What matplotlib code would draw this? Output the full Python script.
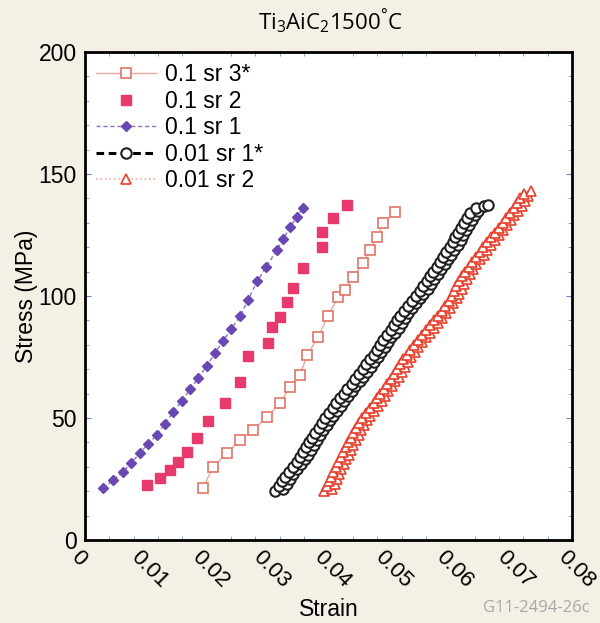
import numpy as np
import matplotlib
matplotlib.use('Agg')
import matplotlib.pyplot as plt
from matplotlib.transforms import ScaledTranslation

plt.rcParams['font.family'] = ['Liberation Sans', 'DejaVu Sans']
plt.rcParams['mathtext.fontset'] = 'custom'
plt.rcParams['mathtext.rm'] = 'Open Sans'

# 0.1 sr 3* (open squares)
sr3_strain = [0.0194, 0.0210, 0.0233, 0.0255, 0.0276, 0.0299, 0.0320, 0.0337, 0.0353, 0.0365,
              0.0383, 0.0399, 0.0416, 0.0427, 0.0440, 0.0457, 0.0468, 0.0480, 0.0490, 0.0509]
sr3_stress = [21.3, 29.9, 35.7, 41.0, 45.1, 50.4, 56.1, 62.7, 67.6, 75.8,
              83.2, 91.8, 99.6, 102.5, 107.8, 113.5, 118.9, 124.2, 129.9, 134.4]

# 0.1 sr 2 (filled squares)
sr2_strain = [0.0102, 0.0123, 0.0140, 0.0153, 0.0168, 0.0184, 0.0202, 0.0230, 0.0255, 0.0268,
              0.0301, 0.0307, 0.0320, 0.0332, 0.0342, 0.0358, 0.0389, 0.0389, 0.0407, 0.0430]
sr2_stress = [22.5, 25.4, 28.7, 32.0, 36.1, 41.8, 48.8, 56.1, 64.8, 75.4,
              80.7, 87.3, 91.4, 97.5, 103.3, 111.5, 120.1, 126.2, 132.0, 137.3]

# 0.1 sr 1 (diamonds)
sr1_strain = [0.0030, 0.0046, 0.0062, 0.0076, 0.0090, 0.0104, 0.0118, 0.0131, 0.0145, 0.0159,
              0.0173, 0.0186, 0.0200, 0.0213, 0.0227, 0.0240, 0.0255, 0.0268, 0.0283, 0.0298,
              0.0315, 0.0326, 0.0337, 0.0348, 0.0358]
sr1_stress = [21.3, 24.5, 27.9, 31.5, 35.7, 39.5, 43.0, 47.5, 52.5, 57.0,
              61.9, 66.5, 71.3, 76.5, 81.6, 86.5, 91.8, 98.5, 106.1, 112.0,
              118.9, 123.5, 128.3, 132.5, 136.1]

# 0.01 sr 1* (open circles), read as two strands of the band
c1_strain = [0.0312, 0.0318, 0.0324, 0.0329, 0.0335, 0.0342, 0.0348, 0.0353, 0.0358, 0.0363,
             0.0368, 0.0373, 0.0378, 0.0384, 0.0390, 0.0395, 0.0401, 0.0407, 0.0413, 0.0419,
             0.0425, 0.0431, 0.0438, 0.0444, 0.0450, 0.0456, 0.0462, 0.0468, 0.0474, 0.0479,
             0.0485, 0.0490, 0.0496, 0.0502, 0.0507, 0.0513, 0.0518, 0.0524, 0.0530, 0.0537,
             0.0543, 0.0550, 0.0556, 0.0561, 0.0567, 0.0572, 0.0578, 0.0583, 0.0588, 0.0593,
             0.0599, 0.0604, 0.0608, 0.0613, 0.0618, 0.0623, 0.0628, 0.0633, 0.0643, 0.0662]
c1_stress = [20, 22, 24, 26, 28, 30, 32, 34, 36, 38,
             40, 42, 44, 46, 48, 50, 52, 54, 56, 58,
             60, 62, 64, 66, 68, 70, 72, 74, 76, 78,
             80, 82, 84, 86, 88, 90, 92, 94, 96, 98,
             100, 102, 104, 106, 108, 110, 112, 114, 116, 118,
             120, 122, 124, 126, 128, 130, 132, 134, 136, 137.5]
c2_strain = [0.0325, 0.0331, 0.0337, 0.0342, 0.0348, 0.0355, 0.0361, 0.0366, 0.0371, 0.0376,
             0.0381, 0.0386, 0.0391, 0.0397, 0.0403, 0.0408, 0.0414, 0.0420, 0.0426, 0.0432,
             0.0438, 0.0444, 0.0451, 0.0457, 0.0463, 0.0469, 0.0475, 0.0481, 0.0487, 0.0492,
             0.0498, 0.0503, 0.0509, 0.0515, 0.0520, 0.0526, 0.0531, 0.0537, 0.0543, 0.0550,
             0.0556, 0.0563, 0.0569, 0.0574, 0.0580, 0.0585, 0.0591, 0.0596, 0.0601, 0.0606,
             0.0612, 0.0617, 0.0621, 0.0626, 0.0631, 0.0636, 0.0641, 0.0646, 0.0656]
c2_stress = [21, 23, 25, 27, 29, 31, 33, 35, 37, 39,
             41, 43, 45, 47, 49, 51, 53, 55, 57, 59,
             61, 63, 65, 67, 69, 71, 73, 75, 77, 79,
             81, 83, 85, 87, 89, 91, 93, 95, 97, 99,
             101, 103, 105, 107, 109, 111, 113, 115, 117, 119,
             121, 123, 125, 127, 129, 131, 133, 135, 137]

# 0.01 sr 2 (open triangles), read as two strands of the band
t1_strain = [0.0393, 0.0397, 0.0401, 0.0404, 0.0408, 0.0412, 0.0416, 0.0420, 0.0424, 0.0428,
             0.0432, 0.0437, 0.0441, 0.0445, 0.0450, 0.0455, 0.0461, 0.0468, 0.0475, 0.0480,
             0.0485, 0.0491, 0.0496, 0.0502, 0.0507, 0.0513, 0.0518, 0.0523, 0.0529, 0.0534,
             0.0541, 0.0547, 0.0554, 0.0560, 0.0567, 0.0574, 0.0580, 0.0586, 0.0592, 0.0598,
             0.0602, 0.0606, 0.0610, 0.0614, 0.0619, 0.0624, 0.0630, 0.0636, 0.0642, 0.0648,
             0.0654, 0.0660, 0.0667, 0.0674, 0.0680, 0.0686, 0.0692, 0.0698, 0.0704, 0.0710,
             0.0715, 0.0721]
t1_stress = [20, 22, 24, 26, 28, 30, 32, 34, 36, 38,
             40, 42, 44, 46, 48, 50, 52, 54, 56, 58,
             60, 62, 64, 66, 68, 70, 72, 74, 76, 78,
             80, 82, 84, 86, 88, 90, 92, 94, 96, 98,
             100, 102, 104, 106, 108, 110, 112, 114, 116, 118,
             120, 122, 124, 126, 128, 130, 132, 134, 136, 138,
             140, 142]
t2_strain = [0.0406, 0.0410, 0.0414, 0.0417, 0.0421, 0.0425, 0.0429, 0.0433, 0.0437, 0.0441,
             0.0445, 0.0450, 0.0454, 0.0458, 0.0463, 0.0468, 0.0474, 0.0481, 0.0488, 0.0493,
             0.0498, 0.0504, 0.0509, 0.0515, 0.0520, 0.0526, 0.0531, 0.0536, 0.0542, 0.0547,
             0.0554, 0.0560, 0.0567, 0.0573, 0.0580, 0.0587, 0.0593, 0.0599, 0.0605, 0.0611,
             0.0615, 0.0619, 0.0623, 0.0627, 0.0632, 0.0637, 0.0643, 0.0649, 0.0655, 0.0661,
             0.0667, 0.0673, 0.0680, 0.0687, 0.0693, 0.0699, 0.0705, 0.0711, 0.0717, 0.0723,
             0.0728, 0.0733]
t2_stress = [21, 23, 25, 27, 29, 31, 33, 35, 37, 39,
             41, 43, 45, 47, 49, 51, 53, 55, 57, 59,
             61, 63, 65, 67, 69, 71, 73, 75, 77, 79,
             81, 83, 85, 87, 89, 91, 93, 95, 97, 99,
             101, 103, 105, 107, 109, 111, 113, 115, 117, 119,
             121, 123, 125, 127, 129, 131, 133, 135, 137, 139,
             141, 143]

xtick_vals = [0, 0.01, 0.02, 0.03, 0.04, 0.05, 0.06, 0.07, 0.08]
xtick_labels = ['0', '0.01', '0.02', '0.03', '0.04', '0.05', '0.06', '0.07', '0.08']
ytick_vals = [0, 50, 100, 150, 200]


def merge(sa, ya, sb, yb):
    s = np.array(sa + sb)
    y = np.array(ya + yb, dtype=float)
    order = np.argsort(y, kind='stable')
    return s[order], y[order]


c_strain, c_stress = merge(c1_strain, c1_stress, c2_strain, c2_stress)
t_strain, t_stress = merge(t1_strain, t1_stress, t2_strain, t2_stress)

fig = plt.figure(figsize=(6, 6.23), dpi=100)
fig.patch.set_facecolor('#f5f0e6')
ax = fig.add_axes([0.1417, 0.1332, 0.8117, 0.7833])
ax.set_facecolor('white')

ax.plot(sr3_strain, sr3_stress, '-', color='#e8aaa2', lw=1.0, marker='s', ms=6.5,
        mfc='white', mec='#e07466', mew=1.2, label='0.1 sr 3*')
ax.plot(sr2_strain, sr2_stress, 's', color='#e8396c', ms=7.5, mec='#e8396c',
        label='0.1 sr 2')
ax.plot(sr1_strain, sr1_stress, '--', color='#8a74c4', lw=1.0, marker='D', ms=5,
        mfc='#6a48b2', mec='#6a48b2', dashes=(3, 2), label='0.1 sr 1')
ax.plot(c_strain, c_stress, '--', color='black', lw=2.2, marker='o', ms=7.5,
        mfc='white', mec='#202020', mew=1.5, dashes=(2.5, 1.5), label='0.01 sr 1*')
ax.plot(t_strain, t_stress, ':', color='#f0b0a0', lw=1.2, marker='^', ms=7.5,
        mfc='white', mec='#e8402c', mew=1.2, label='0.01 sr 2')

ax.set_xlim(0, 0.08)
ax.set_ylim(0, 200)

# x tick labels are drawn as texts so they can sit a little left of the ticks
ax.set_xticks(xtick_vals)
ax.set_xticklabels([])
shift = ScaledTranslation(-4 / 100, -7 / 100, fig.dpi_scale_trans)
for v, lab in zip(xtick_vals, xtick_labels):
    ax.text(v, 0, lab, transform=ax.get_xaxis_transform() + shift,
            rotation=-45, ha='left', va='top', rotation_mode='anchor', fontsize=16)
ax.set_xticks(np.arange(0.004, 0.08, 0.004), minor=True)
ax.set_yticks(ytick_vals)
ax.set_yticks(np.arange(10, 200, 10), minor=True)
ax.tick_params(axis='y', which='major', labelsize=16.5, direction='in', length=4,
               color='#7080b8', left=True, right=True, pad=6)
ax.tick_params(axis='x', which='major', length=0)
ax.tick_params(which='minor', direction='in', length=3, color='#8090c0',
               top=True, bottom=True, left=True, right=True)

for sp in ax.spines.values():
    sp.set_linewidth(2.0)
    sp.set_color('black')

ax.set_xlabel('Strain', fontsize=16.5, labelpad=38)
ax.set_ylabel('Stress (MPa)', fontsize=16.5, labelpad=0)

leg = ax.legend(loc='upper left', bbox_to_anchor=(0.0, 1.0), frameon=False,
                fontsize=16.5, handlelength=2.6, handletextpad=0.4,
                labelspacing=0.15, borderaxespad=0.2, borderpad=0.3)

fig.text(0.55, 0.965, r'Ti$_\mathregular{3}$AiC$_\mathregular{2}$1500$^\mathregular{°}$C',
         ha='center', va='center', fontsize=16, family='Open Sans')
fig.text(0.982, 0.024, 'G11-2494-26c', ha='right', va='center', fontsize=12,
         color='#a8a8a8', family='Open Sans')

fig.savefig('out.png', dpi=100, facecolor=fig.get_facecolor())
